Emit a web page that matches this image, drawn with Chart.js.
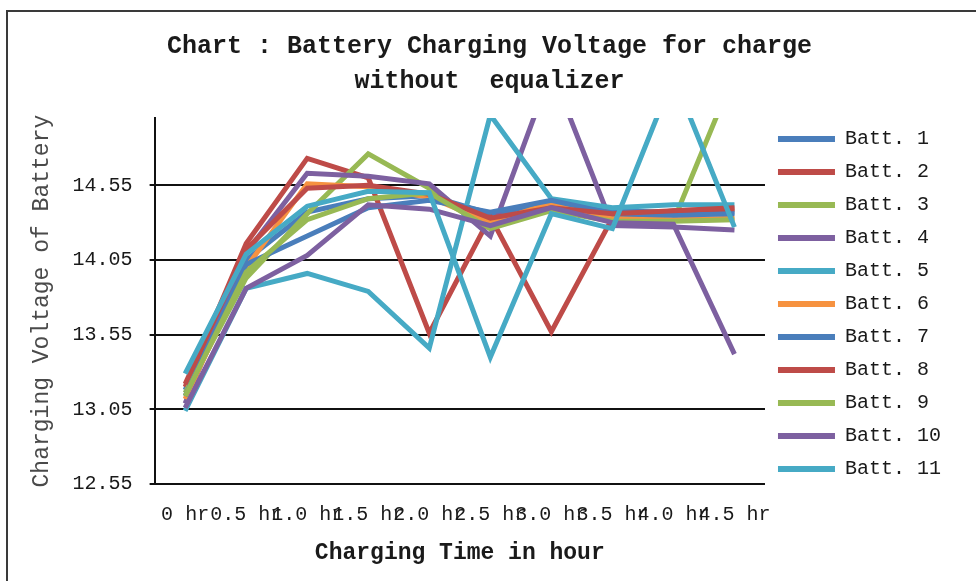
<!DOCTYPE html>
<html>
<head>
<meta charset="utf-8">
<script src="https://cdn.jsdelivr.net/npm/chart.js@4/dist/chart.umd.min.js"></script>
<style>
  html, body { margin: 0; padding: 0; background: #fff; overflow: hidden; }
  #wrap { position: relative; width: 976px; height: 581px; }
  #frame { position: absolute; left: 6px; top: 10px; right: -10px; bottom: -10px;
           border-left: 2px solid #3a3a3a; border-top: 2px solid #3a3a3a; }
  #chart { position: absolute; left: 0; top: 0; }
</style>
</head>
<body>
<div id="wrap">
  <div id="frame"></div>
  <canvas id="chart" width="976" height="581"></canvas>
</div>
<script>
const hours = ['0 hr', '0.5 hr', '1.0 hr', '1.5 hr', '2.0 hr', '2.5 hr', '3.0 hr', '3.5 hr', '4.0 hr', '4.5 hr'];

const batt1  = [13.18, 14.05, 14.37, 14.46, 14.48, 14.36, 14.42, 14.38, 14.37, 14.37];
const batt2  = [13.20, 14.16, 14.73, 14.60, 13.56, 14.34, 13.57, 14.33, 14.38, 14.39];
const batt3  = [13.16, 13.93, 14.36, 14.76, 14.53, 14.26, 14.42, 14.33, 14.31, 15.30];
const batt4  = [13.09, 14.10, 14.63, 14.61, 14.56, 14.21, 15.32, 14.28, 14.27, 14.25];
const batt5  = [13.04, 13.86, 13.96, 13.84, 13.46, 15.02, 14.46, 14.40, 14.42, 14.42];
const batt6  = [13.12, 14.00, 14.56, 14.54, 14.47, 14.30, 14.43, 14.33, 14.32, 14.33];
const batt7  = [13.14, 14.02, 14.21, 14.40, 14.45, 14.37, 14.45, 14.36, 14.35, 14.36];
const batt8  = [13.22, 14.12, 14.53, 14.55, 14.49, 14.33, 14.40, 14.36, 14.38, 14.40];
const batt9  = [13.14, 13.97, 14.32, 14.46, 14.50, 14.26, 14.38, 14.31, 14.31, 14.32];
const batt10 = [13.06, 13.86, 14.08, 14.42, 14.39, 14.28, 14.40, 14.30, 14.29, 13.42];
const batt11 = [13.29, 14.09, 14.41, 14.51, 14.50, 13.40, 14.36, 14.26, 15.28, 14.27];

const seriesNames = ['Batt. 1', 'Batt. 2', 'Batt. 3', 'Batt. 4', 'Batt. 5', 'Batt. 6',
                     'Batt. 7', 'Batt. 8', 'Batt. 9', 'Batt. 10', 'Batt. 11'];
const seriesValues = [batt1, batt2, batt3, batt4, batt5, batt6, batt7, batt8, batt9, batt10, batt11];

const yTicks = [12.55, 13.05, 13.55, 14.05, 14.55];

const palette = ['#4A7EBB', '#BE4B48', '#98B954', '#7D60A0', '#46AAC5', '#F69240'];

const FONT = "'Liberation Mono', 'DejaVu Sans Mono', monospace";

const datasets = seriesValues.map((vals, i) => ({
    label: seriesNames[i],
    data: vals,
    borderColor: palette[i % palette.length],
    backgroundColor: palette[i % palette.length],
    borderWidth: 5,
    pointRadius: 0,
    tension: 0,
    clip: 0,
    order: seriesValues.length - i
}));

const ctx = document.getElementById('chart').getContext('2d');
new Chart(ctx, {
    type: 'line',
    data: {
        labels: hours,
        datasets: datasets
    },
    options: {
        responsive: false,
        animation: false,
        devicePixelRatio: 1,
        layout: {
            padding: { left: 28, right: 25, top: 18, bottom: 21 }
        },
        plugins: {
            title: {
                display: true,
                text: ['Chart : Battery Charging Voltage for charge', 'without  equalizer'],
                color: '#1a1a1a',
                font: { family: FONT, size: 25, weight: 'bold', lineHeight: 1.4 },
                padding: { top: 11, bottom: 19 }
            },
            legend: {
                position: 'right',
                title: {
                    // empty title only pushes the item column down a little
                    display: true,
                    text: ' ',
                    font: { family: FONT, size: 10, lineHeight: 1 },
                    padding: { top: 10, bottom: 10 }
                },
                labels: {
                    color: '#1a1a1a',
                    font: { family: FONT, size: 20 },
                    boxWidth: 57,
                    boxHeight: 6,
                    padding: 13,
                    sort: (a, b) => a.datasetIndex - b.datasetIndex,
                    generateLabels: chart => Chart.defaults.plugins.legend.labels.generateLabels(chart)
                        .map(item => Object.assign(item, { lineWidth: 0, fillStyle: item.strokeStyle }))
                }
            },
            tooltip: { enabled: false }
        },
        scales: {
            x: {
                offset: true,
                grid: { display: false, drawTicks: false },
                border: { display: false },
                ticks: {
                    color: '#1a1a1a',
                    font: { family: FONT, size: 20 },
                    autoSkip: false,
                    maxRotation: 0,
                    minRotation: 0,
                    padding: 19
                },
                title: {
                    display: true,
                    text: 'Charging Time in hour',
                    color: '#1a1a1a',
                    font: { family: FONT, size: 23, weight: 'bold', lineHeight: 0.6 },
                    padding: { top: 0, bottom: 0 }
                }
            },
            y: {
                min: 12.55,
                max: 15.0,
                afterBuildTicks: axis => {
                    axis.ticks = yTicks.map(v => ({ value: v }));
                },
                grid: {
                    color: '#111',
                    lineWidth: 2,
                    tickLength: 5
                },
                border: { display: true, color: '#111', width: 2 },
                ticks: {
                    color: '#1a1a1a',
                    font: { family: FONT, size: 20 },
                    padding: 17,
                    callback: value => Number(value).toFixed(2)
                },
                title: {
                    display: true,
                    text: 'Charging Voltage of Battery',
                    color: '#4a4a4a',
                    font: { family: FONT, size: 23 },
                    padding: { top: 0, bottom: 0 }
                }
            }
        }
    }
});
</script>
</body>
</html>
